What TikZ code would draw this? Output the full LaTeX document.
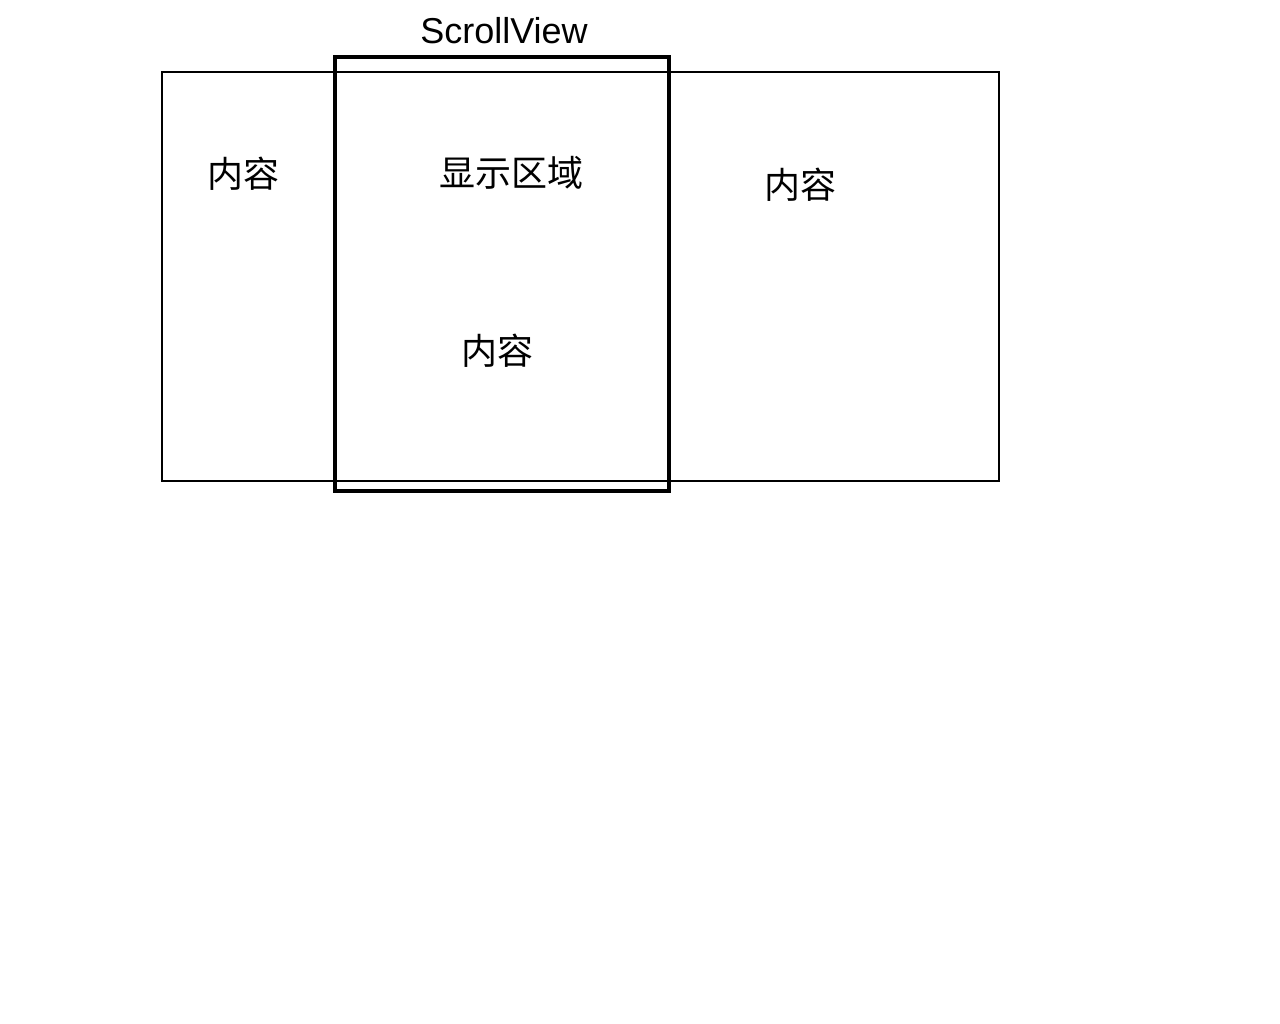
\documentclass[tikz,border=0pt]{standalone}
\usepackage{fontspec}
\setmainfont{Liberation Sans}
\newfontfamily\cjk{Noto Sans CJK SC}
\usetikzlibrary{positioning}

\begin{document}
\begin{tikzpicture}[x=1pt,y=-1pt,
    label text/.style={font=\cjk\fontsize{36}{40}\selectfont,inner sep=0pt},
    title text/.style={font=\fontsize{36}{40}\selectfont,inner sep=0pt}]

% Page frame
\useasboundingbox[fill=white] (0,0) rectangle (1280,1024);

% Content box
\draw[line width=1.6pt] (162,72) rectangle (999,481);

% ScrollView box
\draw[line width=3.6pt] (335,57) rectangle (669,491);

% Labels
\node[title text] (scrollview) at (504,31) {ScrollView};
\node[label text] (leftcontent) at (243,174) {内容};
\node[label text] (display) at (511,173) {显示区域};
\node[label text] (midcontent) at (497,351) {内容};
\node[label text] (rightcontent) at (800,185) {内容};

\end{tikzpicture}
\end{document}
